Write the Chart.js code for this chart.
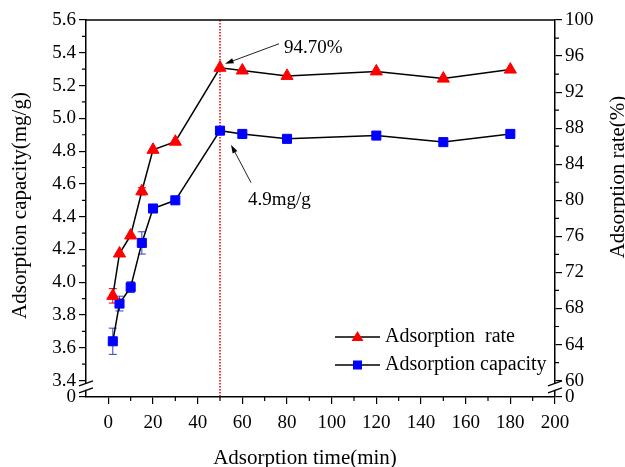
<!DOCTYPE html>
<html>
<head>
<meta charset="utf-8">
<script src="https://cdn.jsdelivr.net/npm/chart.js@4.4.1/dist/chart.umd.min.js"></script>
<style>
  html, body { margin: 0; padding: 0; background: #fff; }
</style>
</head>
<body>
<canvas id="myChart" width="625" height="467"></canvas>
<script>
// data
const times = [2, 5, 10, 15, 20, 30, 50, 60, 80, 120, 150, 180];
const rateValues = [69.4, 74.1, 76.1, 81.0, 85.6, 86.5, 94.7, 94.4, 93.8, 94.3, 93.5, 94.5];
const rateErrors = [0.8, 0, 0, 0.4, 0, 0, 0, 0, 0, 0, 0, 0];
const capacityValues = [3.64, 3.87, 3.97, 4.24, 4.45, 4.50, 4.925, 4.905, 4.875, 4.895, 4.855, 4.905];
const capacityErrors = [0.08, 0.045, 0.033, 0.068, 0, 0, 0, 0, 0, 0, 0, 0];

const timeTicks = [0, 20, 40, 60, 80, 100, 120, 140, 160, 180, 200];
const capacityTicks = [3.4, 3.6, 3.8, 4.0, 4.2, 4.4, 4.6, 4.8, 5.0, 5.2, 5.4, 5.6];
const rateTicks = [60, 64, 68, 72, 76, 80, 84, 88, 92, 96, 100];

const peakTime = 50;
const peakRateLabel = '94.70%';
const peakCapacityLabel = '4.9mg/g';

// broken axes: the "0" tick sits half a step below the first real tick
const capacityBreak = 3.3;
const rateBreak = 60 - (3.4 - capacityBreak) * (100 - 60) / (5.6 - 3.4);

const serif = '"Liberation Serif", "Times New Roman", serif';
const RED = '#ff0000';
const BLUE = '#0000ff';

function setTicks(values, zero) {
    return function (scale) {
        scale.ticks = [zero].concat(values).map(v => ({value: v}));
    };
}

function minorTicks(chart, scale, values, side) {
    const ctx = chart.ctx;
    ctx.save();
    ctx.strokeStyle = '#000';
    ctx.lineWidth = 1.2;
    ctx.beginPath();
    for (let i = 0; i < values.length - 1; i++) {
        const v = (values[i] + values[i + 1]) / 2;
        const p = scale.getPixelForValue(v);
        if (side === 'left') { ctx.moveTo(scale.right, p); ctx.lineTo(scale.right - 4, p); }
        if (side === 'right') { ctx.moveTo(scale.left, p); ctx.lineTo(scale.left + 4, p); }
        if (side === 'bottom') { ctx.moveTo(p, scale.top); ctx.lineTo(p, scale.top + 4); }
    }
    ctx.stroke();
    ctx.restore();
}

function errorBars(chart, values, errors, scale, color) {
    const ctx = chart.ctx;
    const xs = chart.scales.x;
    ctx.save();
    ctx.strokeStyle = color;
    ctx.lineWidth = 1;
    for (let i = 0; i < values.length; i++) {
        if (!errors[i]) continue;
        const x = xs.getPixelForValue(times[i]);
        const y1 = scale.getPixelForValue(values[i] + errors[i]);
        const y2 = scale.getPixelForValue(values[i] - errors[i]);
        ctx.beginPath();
        ctx.moveTo(x, y1); ctx.lineTo(x, y2);
        ctx.moveTo(x - 4, y1); ctx.lineTo(x + 4, y1);
        ctx.moveTo(x - 4, y2); ctx.lineTo(x + 4, y2);
        ctx.stroke();
    }
    ctx.restore();
}

function axisBreak(ctx, x, y) {
    ctx.save();
    ctx.fillStyle = '#fff';
    ctx.fillRect(x - 2, y - 3, 4, 6);
    ctx.strokeStyle = '#000';
    ctx.lineWidth = 1.3;
    ctx.beginPath();
    ctx.moveTo(x - 7, y - 1); ctx.lineTo(x + 7, y - 6);
    ctx.moveTo(x - 7, y + 6); ctx.lineTo(x + 7, y + 1);
    ctx.stroke();
    ctx.restore();
}

function arrow(ctx, x1, y1, x2, y2) {
    const ang = Math.atan2(y2 - y1, x2 - x1);
    ctx.beginPath();
    ctx.moveTo(x1, y1);
    ctx.lineTo(x2 - 6 * Math.cos(ang), y2 - 6 * Math.sin(ang));
    ctx.stroke();
    ctx.beginPath();
    ctx.moveTo(x2, y2);
    ctx.lineTo(x2 - 9 * Math.cos(ang - 0.3), y2 - 9 * Math.sin(ang - 0.3));
    ctx.lineTo(x2 - 9 * Math.cos(ang + 0.3), y2 - 9 * Math.sin(ang + 0.3));
    ctx.closePath();
    ctx.fill();
}

function marker(ctx, style, x, y, color) {
    ctx.fillStyle = color;
    ctx.beginPath();
    if (style === 'triangle') {
        ctx.moveTo(x, y - 6); ctx.lineTo(x + 6, y + 4); ctx.lineTo(x - 6, y + 4);
    } else {
        ctx.rect(x - 4.5, y - 4.5, 9, 9);
    }
    ctx.closePath();
    ctx.fill();
}

const decor = {
    id: 'decor',
    beforeDatasetsDraw(chart) {
        const {ctx, chartArea: a, scales} = chart;
        const x = scales.x.getPixelForValue(peakTime);
        ctx.save();
        ctx.strokeStyle = '#e00000';
        ctx.lineWidth = 1.5;
        ctx.setLineDash([1.5, 1.5]);
        ctx.beginPath();
        ctx.moveTo(x, a.top); ctx.lineTo(x, a.bottom);
        ctx.stroke();
        ctx.restore();

        errorBars(chart, rateValues, rateErrors, scales.y1, '#e00000');
        errorBars(chart, capacityValues, capacityErrors, scales.y, '#3040c0');
    },
    afterDraw(chart) {
        const {ctx, chartArea: a, scales} = chart;

        // top frame line
        ctx.save();
        ctx.strokeStyle = '#000';
        ctx.lineWidth = 1.5;
        ctx.beginPath();
        ctx.moveTo(a.left, a.top); ctx.lineTo(a.right, a.top);
        ctx.stroke();
        ctx.restore();

        minorTicks(chart, scales.y, capacityTicks, 'left');
        minorTicks(chart, scales.y1, rateTicks, 'right');
        minorTicks(chart, scales.x, timeTicks, 'bottom');

        const yb = (scales.y.getPixelForValue(capacityTicks[0]) + scales.y.getPixelForValue(capacityBreak)) / 2 - 2;
        axisBreak(ctx, a.left, yb);
        axisBreak(ctx, a.right, yb);

        // annotations
        const i = times.indexOf(peakTime);
        const px = scales.x.getPixelForValue(peakTime);
        const pr = scales.y1.getPixelForValue(rateValues[i]);
        const pc = scales.y.getPixelForValue(capacityValues[i]);
        ctx.save();
        ctx.strokeStyle = '#222';
        ctx.fillStyle = '#000';
        ctx.lineWidth = 1;
        arrow(ctx, px + 59, pr - 24, px + 5, pr - 4);
        arrow(ctx, px + 31, pc + 52, px + 11, pc + 14);
        ctx.font = '19px ' + serif;
        ctx.textBaseline = 'middle';
        ctx.textAlign = 'left';
        ctx.fillText(peakRateLabel, px + 64, pr - 20);
        ctx.fillText(peakCapacityLabel, px + 28, pc + 69);
        ctx.restore();

        // legend
        ctx.save();
        chart.data.datasets.forEach((ds, k) => {
            const ly = a.bottom - 60 + k * 28;
            const lx = a.right - 220;
            ctx.strokeStyle = '#000';
            ctx.lineWidth = 1.5;
            ctx.beginPath();
            ctx.moveTo(lx, ly); ctx.lineTo(lx + 45, ly);
            ctx.stroke();
            marker(ctx, ds.pointStyle, lx + 22.5, ly, ds.pointBackgroundColor);
            ctx.fillStyle = '#000';
            ctx.font = '20px ' + serif;
            ctx.textBaseline = 'middle';
            ctx.textAlign = 'left';
            ctx.fillText(ds.label, lx + 50, ly);
        });
        ctx.restore();

        // axis titles
        ctx.save();
        ctx.fillStyle = '#000';
        ctx.font = '21px ' + serif;
        ctx.textAlign = 'center';
        ctx.textBaseline = 'middle';
        ctx.fillText('Adsorption time(min)', 305, a.bottom + 61);
        ctx.translate(a.left - 66, (a.top + a.bottom) / 2 - 3);
        ctx.rotate(-Math.PI / 2);
        ctx.fillText('Adsorption capacity(mg/g)', 0, 0);
        ctx.restore();
        ctx.save();
        ctx.fillStyle = '#000';
        ctx.font = '21px ' + serif;
        ctx.textAlign = 'center';
        ctx.textBaseline = 'middle';
        ctx.translate(a.right + 63, 177);
        ctx.rotate(-Math.PI / 2);
        ctx.fillText('Adsorption rate(%)', 0, 0);
        ctx.restore();
    }
};

const tickFont = {family: serif, size: 19};
const axisGrid = {drawOnChartArea: false, drawTicks: true, tickLength: 7, color: '#000', lineWidth: 1.2};
const axisBorder = {display: true, color: '#000', width: 1.5};

new Chart(document.getElementById('myChart'), {
    type: 'line',
    data: {
        datasets: [{
            label: 'Adsorption  rate',
            data: times.map((t, i) => ({x: t, y: rateValues[i]})),
            yAxisID: 'y1',
            borderColor: '#000',
            borderWidth: 1.5,
            pointStyle: 'triangle',
            pointRadius: 7,
            pointBackgroundColor: RED,
            pointBorderColor: RED,
            pointBorderWidth: 1,
            tension: 0
        }, {
            label: 'Adsorption capacity',
            data: times.map((t, i) => ({x: t, y: capacityValues[i]})),
            yAxisID: 'y',
            borderColor: '#000',
            borderWidth: 1.5,
            pointStyle: 'rect',
            pointRadius: 6.4,
            pointBackgroundColor: BLUE,
            pointBorderColor: BLUE,
            pointBorderWidth: 1,
            tension: 0
        }]
    },
    options: {
        responsive: false,
        animation: false,
        devicePixelRatio: 1,
        layout: {padding: {top: 20, left: 0, right: 0, bottom: 0}},
        plugins: {
            legend: {display: false},
            tooltip: {enabled: false}
        },
        scales: {
            x: {
                type: 'linear',
                min: -10,
                max: 200,
                afterBuildTicks: scale => { scale.ticks = timeTicks.map(v => ({value: v})); },
                afterFit: scale => { scale.height = 70; },
                grid: axisGrid,
                border: axisBorder,
                ticks: {color: '#000', font: tickFont, padding: 8, autoSkip: false, maxRotation: 0}
            },
            y: {
                position: 'left',
                min: capacityBreak,
                max: 5.6,
                afterBuildTicks: setTicks(capacityTicks, capacityBreak),
                afterFit: scale => { scale.width = 86; },
                grid: axisGrid,
                border: axisBorder,
                ticks: {
                    color: '#000', font: tickFont, padding: 3, autoSkip: false,
                    callback: v => v === capacityBreak ? '0' : v.toFixed(1)
                }
            },
            y1: {
                position: 'right',
                min: rateBreak,
                max: 100,
                afterBuildTicks: setTicks(rateTicks, rateBreak),
                afterFit: scale => { scale.width = 70; },
                grid: axisGrid,
                border: axisBorder,
                ticks: {
                    color: '#000', font: tickFont, padding: 3, autoSkip: false,
                    callback: v => v === rateBreak ? '0' : String(v)
                }
            }
        }
    },
    plugins: [decor]
});
</script>
</body>
</html>
